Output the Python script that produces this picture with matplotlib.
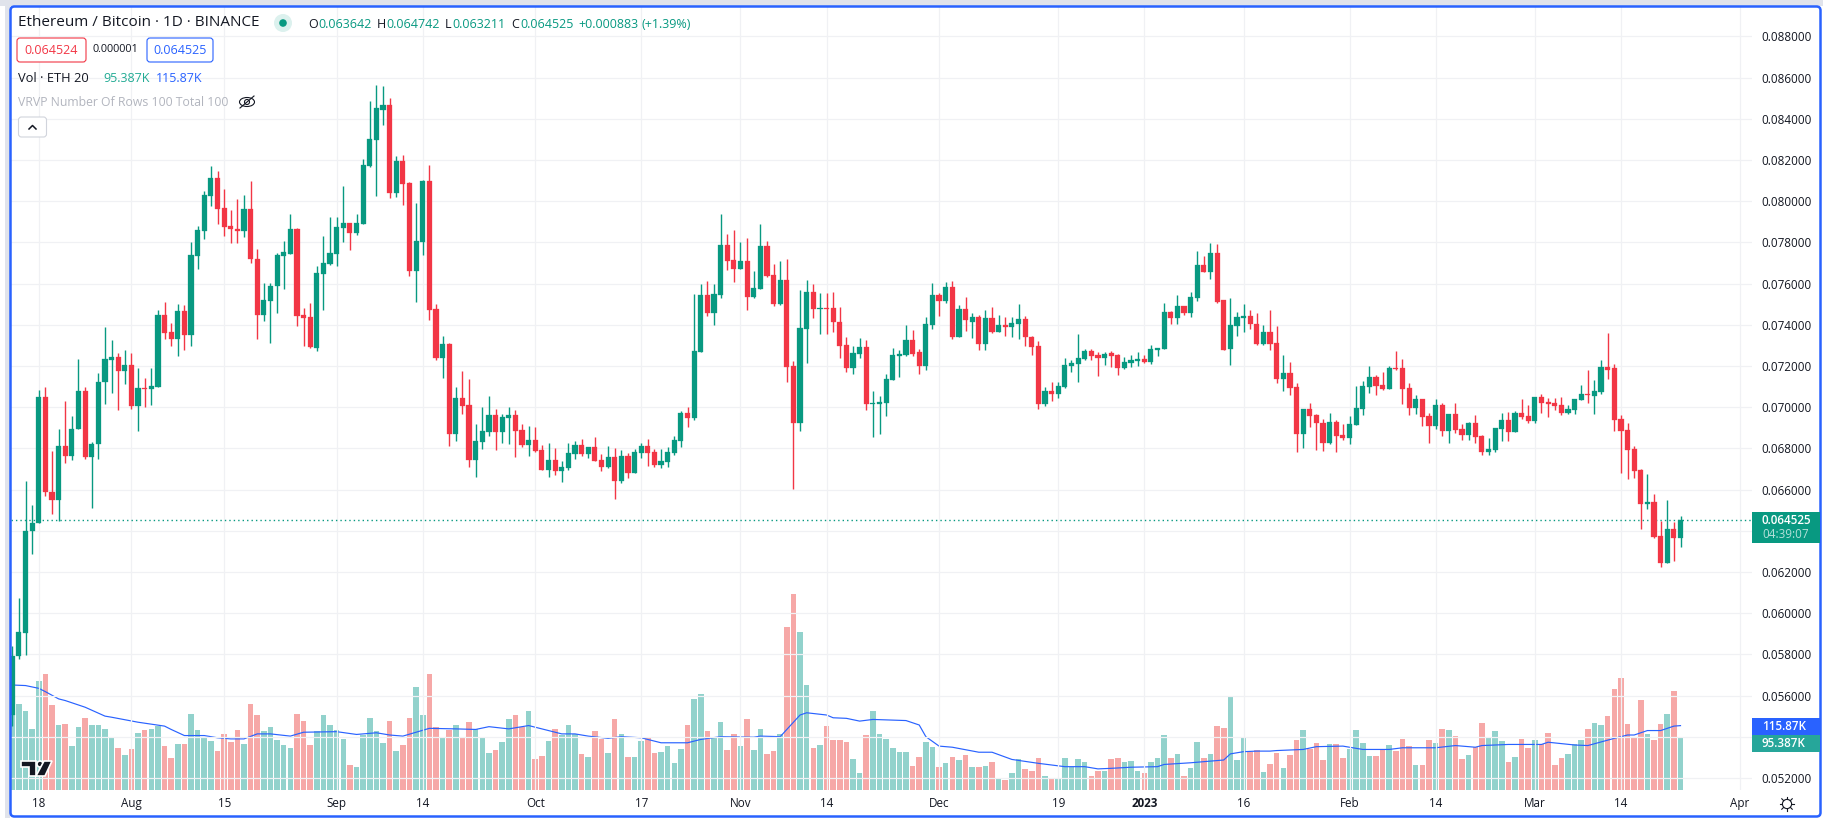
import matplotlib
matplotlib.use('Agg')
import matplotlib.pyplot as plt
import matplotlib.dates as mdates
from matplotlib.patches import Rectangle, FancyBboxPatch, Circle, Ellipse, Polygon
import numpy as np
import pandas as pd

plt.rcParams['font.family'] = ['Open Sans', 'DejaVu Sans']

# prices in millionths of a BTC, one entry per day from 14 Jul 2022
opens = [
    55060,57920,59060,64000,64380,70500,65900,65500,68100,67650,
    68950,70800,67600,68200,71200,72300,72450,71750,72050,70050,
    70950,70900,71000,74500,73650,73300,74650,73500,77350,78550,
    80250,81150,79650,78800,78650,78550,79600,77200,74500,75150,
    75900,77350,77450,78650,74500,74400,72850,76450,76950,77450,
    78700,78950,78450,78900,81700,82950,84450,84650,80400,81950,
    80900,76600,78000,81000,74750,72400,73050,68700,70450,70100,
    67430,68320,68800,69630,68800,69480,69630,68900,68170,68410,
    67920,66950,67430,66900,67050,67730,68170,67730,68070,67430,
    67100,67580,66410,67630,66800,67780,68110,67830,67190,67340,
    67780,68360,69720,69480,72690,75460,74590,75460,77870,77140,
    76700,77090,75340,75720,77820,76410,75000,76160,72000,69240,
    73780,75580,74760,74800,74800,74160,73020,71900,72570,72900,
    70160,70160,70210,71340,72500,72550,73240,72700,72020,73970,
    75440,75140,75820,73430,74790,74160,74400,73090,74310,73670,
    73970,73870,74060,74260,73430,72990,70160,70790,70650,71000,
    72020,72110,72360,72750,72550,72410,72650,72550,71920,72160,
    72260,72360,72210,72790,72840,74600,74310,74890,74550,75280,
    76900,76560,77480,75190,72810,73920,74310,74450,74060,73090,
    73630,73140,71380,71680,71000,68700,69920,69620,69230,68260,
    69290,68650,68500,69140,69920,70990,71480,71090,70890,71920,
    71920,70940,69970,70410,69580,69090,70110,68840,69680,68940,
    68650,69240,68600,67820,67920,68940,69380,68790,69720,69580,
    69340,70500,70260,70210,70110,69720,69870,70360,70650,70550,
    70760,71970,71920,69430,68890,67970,66940,65300,65390,63730,
    62460,64110,63642]
highs = [
    58400,60740,66400,65250,70820,71000,67850,68950,70300,69550,
    72350,71000,68300,71650,73900,73250,72650,72800,72650,71900,
    71400,71900,74700,75100,74100,75000,74950,78000,78800,80500,
    81700,81450,80600,79550,80100,80300,81000,77700,76050,76050,
    77500,78050,79400,78700,74800,75050,76850,78300,79250,79250,
    80750,78950,79400,82050,84850,85650,85600,85000,82200,82250,
    80950,79900,81050,81750,75000,73450,73100,70990,71770,71380,
    69190,70000,70550,69920,69680,70020,69870,69190,69090,69040,
    68160,68260,68000,67390,68260,68360,68460,68070,68550,67730,
    68110,68000,67920,67780,67970,68260,68460,67970,67970,68070,
    68600,69820,70020,75510,76000,76140,76000,79400,78400,78600,
    78020,78200,76600,78900,78060,76940,77090,77180,72250,75680,
    76160,75970,75530,75530,75580,74840,73390,72970,73340,73250,
    70800,70550,71620,72890,72790,73970,73770,72840,74360,76020,
    75530,76060,76110,74940,75330,74550,74500,74740,74840,74500,
    74400,74360,74990,74450,73480,73230,70980,71230,71230,72410,
    72310,73550,72840,72840,72700,72700,72750,72600,72450,72550,
    72700,72550,73030,72890,75060,74650,75430,74890,75580,77580,
    77340,77970,77920,75190,75280,74600,74990,74740,74550,73970,
    74700,73920,72550,72210,71160,69920,70210,69670,69430,69720,
    69380,69190,69580,71040,71280,72020,71580,71720,72020,72750,
    72360,71170,70600,70410,69720,70410,70210,69680,70210,69190,
    69290,69620,68650,68500,68990,69720,69770,69820,70410,70110,
    70500,70650,70450,70450,70500,70110,70410,71090,71820,71340,
    72310,73590,72110,69630,69240,68110,66990,66760,65770,64500,
    65500,64450,64742]
lows = [
    54520,57770,57960,62850,64380,65700,64800,64500,67300,67450,
    68950,67500,65100,67500,70150,70700,69850,71150,69900,68850,
    70000,70100,71000,73300,72950,72500,72800,72950,76700,78150,
    79750,78900,78300,77950,77950,78250,77000,73300,74200,73100,
    74550,75750,77450,73950,72950,72850,72750,74700,76900,76850,
    78000,77650,78350,78900,81650,80250,83700,80150,80200,79800,
    76350,75100,77400,74250,72300,71400,68110,68350,69680,67100,
    66600,67970,68610,67920,68260,68210,67580,68070,67630,67830,
    66950,66600,66710,66370,66950,67490,67630,67530,67390,66900,
    67050,65530,66320,66550,66800,67530,67140,67100,67050,67100,
    67680,68070,69040,69380,72690,74440,74000,75310,76650,76100,
    76700,74710,75290,75720,76310,74900,74950,71230,66030,68850,
    72160,74310,73560,73560,73660,72390,71710,71610,72390,69870,
    68530,68680,69580,71340,71480,72500,72500,71630,71820,73820,
    74410,75040,73330,73430,73720,73380,72800,72800,73580,73670,
    73480,73430,73300,72950,72550,69920,70060,70310,70450,70940,
    71720,71230,72310,72310,71530,72060,71970,71580,71870,71970,
    72020,72160,72110,72500,72840,74060,74060,74500,74400,75140,
    76560,76210,75050,72760,72060,73480,73630,73820,73040,73040,
    72800,71190,70800,70610,67820,68020,69040,67920,67870,68210,
    67820,68400,68210,69140,69630,70700,70600,70840,70890,71820,
    70160,69630,69680,69090,68260,68940,68600,68260,68750,68400,
    68400,68260,67680,67680,67820,68360,68360,68790,69430,69240,
    69240,69720,69530,69870,69630,69680,69680,70360,70210,69680,
    70650,71380,68840,66800,66510,66560,64100,65040,63630,62260,
    62460,62510,63211]
closes = [
    57920,59080,64000,64380,70500,65900,65500,68100,67650,68950,
    70800,67600,68200,71200,72350,72450,71750,72050,70050,70950,
    70900,71050,74500,73600,73300,74650,73500,77400,78600,80300,
    81150,79600,78750,78650,78550,79600,77200,74500,75200,75900,
    77400,77550,78650,74450,74350,72900,76500,77000,77500,78750,
    78950,78450,78950,81750,83000,84500,84650,80400,81950,80850,
    76600,78050,81000,74700,72400,73050,68700,70450,70060,67430,
    68360,68850,69630,68800,69530,69630,68850,68170,68410,67880,
    66950,67430,66900,67100,67780,68170,67730,68070,67390,67100,
    67580,66410,67630,66800,67830,68110,67780,67190,67390,67830,
    68410,69720,69480,72740,75460,74590,75510,77870,77090,76700,
    77090,75340,75770,77820,76360,75000,76160,71960,69240,73830,
    75580,74760,74800,74760,74120,72970,71900,72620,72900,70160,
    70210,70260,71380,72550,72600,73240,72600,72020,74020,75440,
    75140,75820,73430,74790,74210,74400,73090,74310,73670,73970,
    73870,74110,74260,73430,72900,70160,70790,70650,71040,72060,
    72160,72410,72750,72500,72410,72600,72500,71920,72210,72310,
    72360,72210,72840,72890,74600,74310,74890,74550,75330,76900,
    76560,77480,75100,72760,73970,74360,74450,74020,73090,73630,
    73090,71380,71680,70950,68700,69920,69580,69230,68260,69290,
    68600,68500,69190,69970,71040,71480,71040,70890,71920,71870,
    70890,69970,70410,69530,69090,70110,68840,69680,68890,68650,
    69240,68550,67820,67970,68990,69380,68790,69720,69530,69340,
    70500,70210,70160,70060,69720,69920,70410,70650,70600,70800,
    71970,71820,69380,68840,67920,66900,65300,65390,63680,62460,
    64110,63630,64525]

# volume in thousands of ETH
volumes = [
    135,155,142,110,196,209,153,117,119,79,
    113,130,117,117,110,95,76,63,74,103,
    108,110,115,79,58,83,83,137,108,94,
    88,70,101,86,108,83,155,135,106,113,
    90,81,76,137,124,81,106,135,117,108,
    92,45,41,99,130,106,85,124,70,81,
    130,185,135,209,113,94,108,117,94,122,
    110,95,67,72,86,128,135,113,142,56,
    61,88,110,99,117,101,65,59,106,92,
    67,128,101,59,59,88,95,67,68,79,
    49,74,117,164,173,106,95,122,72,101,
    79,128,72,110,65,70,101,293,353,284,
    189,76,81,115,90,90,86,56,31,99,
    142,101,92,76,68,68,43,59,86,77,
    41,49,59,54,63,41,41,43,50,22,
    18,31,56,38,34,58,25,22,22,58,
    41,56,50,25,34,34,56,58,50,52,
    34,31,50,58,99,58,65,25,40,86,
    58,65,115,112,167,54,94,68,72,32,
    47,67,40,63,90,108,74,85,54,83,
    83,58,74,108,85,61,61,74,81,70,
    92,79,45,45,90,85,110,108,97,56,
    63,77,121,95,106,88,50,59,92,76,
    90,83,103,45,58,65,83,90,110,121,
    117,133,182,202,119,95,162,101,90,119,
    137,178,95.387]

# 20 day volume average, read at the bends of the line
ma_days = [0,2,4,5,7,8,11,14,15,19,23,24,26,29,31,33,35,37,39,42,44,49,52,55,57,59,
           63,67,70,72,75,78,81,83,85,87,90,92,95,98,102,104,107,112,113,116,119,120,
           123,124,126,128,130,135,137,138,140,142,146,148,151,155,159,162,164,166,
           169,173,174,178,181,183,184,186,188,190,191,195,197,201,204,208,210,215,
           218,221,222,226,231,232,236,238,242,244,245,247,249,251,252]
ma_values = [189,188,183,177,164,161,149,133,131,122,115,109,98,98,94,92,92,101,101,97,104,105,100,103,99,97,
             111,110,109,114,110,116,107,101,101,97,93,96,94,85,85,91,96,95,97,96,135,139,
             135,130,129,124,127,125,117,96,79,77,68,68,55,48,42,42,38,39,
             41,42,46,49,52,54,65,69,70,70,71,73,78,79,73,73,76,76,
             80,77,80,82,82,86,81,80,93,99,99,107,107,115,115.87]

price_ticks = [0.052,0.054,0.056,0.058,0.060,0.062,0.064,0.066,0.068,0.070,0.072,0.074,0.076,0.078,
               0.080,0.082,0.084,0.086,0.088]
# 0.054 and 0.064 sit behind the value boxes
hidden_ticks = [0.054,0.064]
date_ticks = ['2022-07-18','2022-08-01','2022-08-15','2022-09-01','2022-09-14','2022-10-01','2022-10-17',
              '2022-11-01','2022-11-14','2022-12-01','2022-12-19','2023-01-01','2023-01-16','2023-02-01',
              '2023-02-14','2023-03-01','2023-03-14','2023-04-01']
date_labels = ['18','Aug','15','Sep','14','Oct','17','Nov','14','Dec','19','2023','16','Feb','14','Mar','14','Apr']

last_price = 0.064525

GREEN = '#089981'
RED = '#F23645'
BLUE = '#2962FF'
GRID = '#F0F1F4'
TEXT = '#131722'
W, H = 1823, 818

opens, highs, lows, closes = [np.array(a) / 1e6 for a in (opens, highs, lows, closes)]
days = mdates.date2num(pd.date_range('2022-07-14', periods=len(opens)))
up = closes >= opens
volumes = np.array(volumes, dtype=float)
ma_x = days[0] + np.array(ma_days)

fig = plt.figure(figsize=(W / 100, H / 100), dpi=100, facecolor='white')


def box(left, top, right, bottom):
    return [left / W, 1 - bottom / H, (right - left) / W, (bottom - top) / H]


# volume pane sits under the candles, both share the same frame
axv = fig.add_axes(box(11, 7, 1752, 790), zorder=1)
ax = fig.add_axes(box(11, 7, 1752, 790), zorder=2, sharex=axv)
ax.patch.set_visible(False)

axv.bar(days[up], volumes[up], width=0.84, color='#26A69A', alpha=0.5, lw=0)
axv.bar(days[~up], volumes[~up], width=0.84, color='#EF5350', alpha=0.5, lw=0)
axv.plot(ma_x, ma_values, color=BLUE, lw=0.85, zorder=3)
axv.set_ylim(0, 783 * 1.8)
axv.set_yticks([])
for s in axv.spines.values():
    s.set_visible(False)

ax.vlines(days[up], lows[up], highs[up], color=GREEN, lw=1.0, zorder=3)
ax.vlines(days[~up], lows[~up], highs[~up], color=RED, lw=1.0, zorder=3)
ax.bar(days[up], (closes - opens)[up], bottom=opens[up], width=0.78, color=GREEN, edgecolor=GREEN, lw=0.2, zorder=4)
ax.bar(days[~up], (closes - opens)[~up], bottom=opens[~up], width=0.78, color=RED, edgecolor=RED, lw=0.2, zorder=4)
ax.axhline(last_price, color=GREEN, lw=1.0, ls=(0, (1, 2.2)), zorder=2)

# y scale: 41.2 px per 0.002, 0.052 at pixel 778
ax.set_ylim(0.052 + (778 - 790) / 41.2 * 0.002, 0.052 + (778 - 7) / 41.2 * 0.002)
ax.set_xlim(days[0] - 0.196, days[0] + 262.8)
ax.set_yticks(price_ticks)
ax.set_yticklabels(['' if t in hidden_ticks else f'{t:.6f}' for t in price_ticks])
ax.yaxis.tick_right()
ax.tick_params(axis='y', length=0, pad=7, labelsize=8.4, labelcolor=TEXT)
ax.set_xticks(mdates.date2num(pd.to_datetime(date_ticks)))
ax.set_xticklabels(date_labels)
ax.tick_params(axis='x', length=0, pad=5, labelsize=8.4, labelcolor=TEXT)
for lab in ax.get_xticklabels():
    if lab.get_text() == '2023':
        lab.set_fontweight('bold')
ax.grid(True, color=GRID, lw=0.9, zorder=0)
ax.set_axisbelow(True)
for s in ax.spines.values():
    s.set_visible(False)
axv.tick_params(axis='x', length=0, labelbottom=False)

# everything around the chart is placed in image pixels
ov = fig.add_axes([0, 0, 1, 1], zorder=5)
ov.set_xlim(0, W)
ov.set_ylim(H, 0)
ov.axis('off')

ov.add_patch(Rectangle((0, 0), W, 6, color='#E0E3EB', lw=0))
ov.add_patch(Rectangle((5, 0), 5, H, color='#E0E3EB', lw=0))
ov.add_patch(FancyBboxPatch((10.5, 6.5), 1810, 810, boxstyle='round,pad=0,rounding_size=4', fc='none', ec=BLUE, lw=1.8))


def label(x, y, s, color=TEXT, size=8.4, ha='left', **kw):
    ov.text(x, y, s, color=color, fontsize=size, ha=ha, va='center', **kw)


label(18, 23, 'Ethereum / Bitcoin · 1D · BINANCE', size=11)
ov.add_patch(Circle((283, 23), 9, color='#DCF1EE', lw=0))
ov.add_patch(Circle((283, 23), 3.8, color=GREEN, lw=0))

for x, s in [(308, 'O'), (377, 'H'), (445, 'L'), (511, 'C')]:
    label(x, 24, s, size=9)
for x, s in [(318, '0.063642'), (386, '0.064742'), (452, '0.063211'), (520, '0.064525'),
             (578, '+0.000883'), (642, '(+1.39%)')]:
    label(x, 24, s, color=GREEN, size=9)

for x0, x1, c, s in [(17, 86, RED, '0.064524'), (147, 213, BLUE, '0.064525')]:
    ov.add_patch(FancyBboxPatch((x0, 38), x1 - x0, 24, boxstyle='round,pad=0,rounding_size=3', fc='white', ec=c, lw=0.8))
    label((x0 + x1) / 2, 50, s, color=c, size=9, ha='center')
label(115.5, 50, '0.000001', size=7.8, ha='center')

label(18, 78, 'Vol · ETH 20', size=9.3)
label(103, 78, '95.387K', color='#22AB94', size=9)
label(156, 78, '115.87K', color=BLUE, size=9)
label(18, 102, 'VRVP Number Of Rows 100 Total 100', color='#B2B5BE', size=8.8)

ov.add_patch(Ellipse((247, 102), 15, 9, fc='none', ec=TEXT, lw=0.8))
ov.add_patch(Circle((247, 102), 2.5, fc='none', ec=TEXT, lw=0.8))
ov.plot([240, 254], [108, 96], color=TEXT, lw=0.8)

ov.add_patch(FancyBboxPatch((18.5, 117), 28, 20, boxstyle='round,pad=0,rounding_size=3', fc='white', ec='#D1D4DC', lw=0.8))
ov.plot([29, 32.5, 36], [129, 125.5, 129], color=TEXT, lw=1.1)

# last price and volume value boxes on the scale
ov.add_patch(Rectangle((1752, 512), 68, 31, color=GREEN, lw=0))
label(1762, 521, '0.064525', color='white', size=8.4, fontweight='semibold')
label(1762, 534, '04:39:07', color='#B5E0D9', size=8.4)
ov.add_patch(Rectangle((1752, 718), 68, 17, color=BLUE, lw=0))
label(1762, 726.5, '115.87K', color='white', size=8.4, fontweight='semibold')
ov.add_patch(Rectangle((1752, 735), 68, 17, color='#26A69A', lw=0))
label(1762, 743.5, '95.387K', color='white', size=8.4, fontweight='semibold')

# settings icon
ov.add_patch(Circle((1787, 804), 4.6, fc='white', ec=TEXT, lw=0.8))
for a in np.arange(0, 360, 45):
    r = np.radians(a)
    ov.plot([1787 + 4.6 * np.cos(r), 1787 + 7.4 * np.cos(r)], [804 + 4.6 * np.sin(r), 804 + 7.4 * np.sin(r)],
            color=TEXT, lw=0.8)

# chart library logo
logo = dict(fc='#131722', ec='white', lw=1.2)
ov.add_patch(Polygon([(21, 761), (36, 761), (36, 776), (29, 776), (29, 767), (21, 767)], **logo))
ov.add_patch(Circle((40, 764), 3, **logo))
ov.add_patch(Polygon([(44, 761), (52, 761), (45, 776), (36, 776)], **logo))

fig.savefig('out.png', dpi=100, facecolor='white')
